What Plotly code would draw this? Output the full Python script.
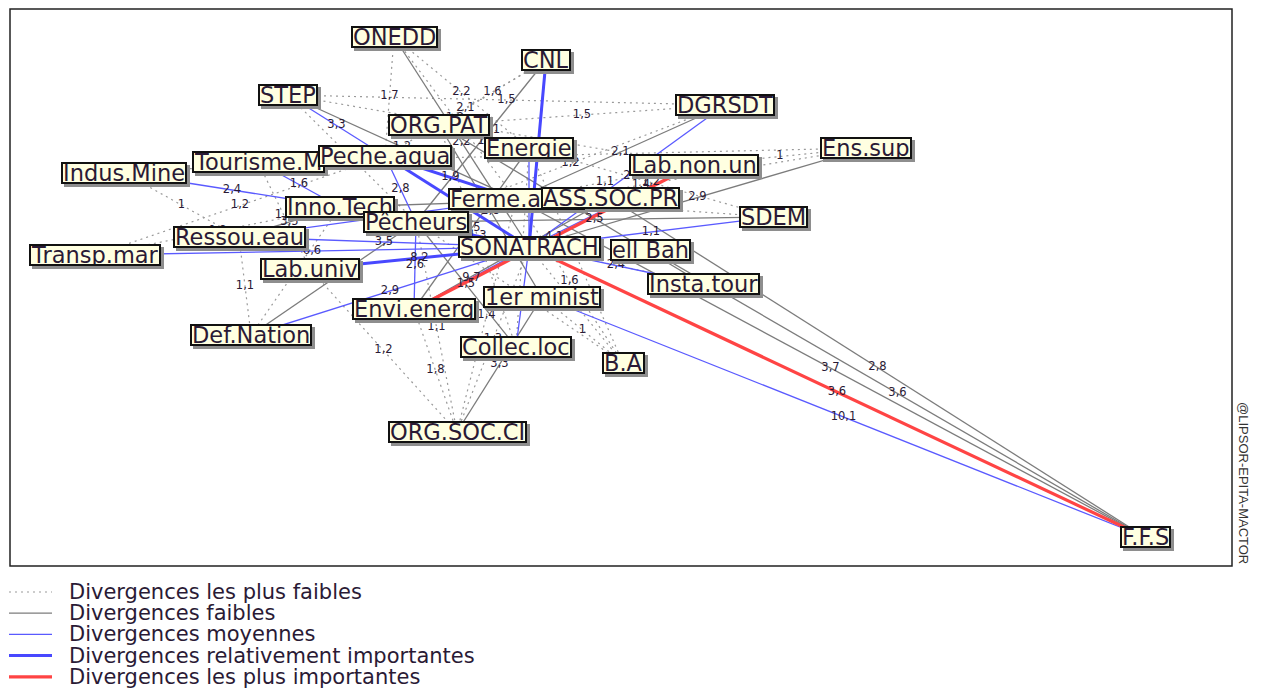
"""
Graphe MACTOR des divergences entre acteurs (plan de positionnement).
"""

import plotly.graph_objects as go

# acteurs : ordre d'affichage (les derniers passent au-dessus)
ACTEURS = [
    "ONEDD", "CNL", "STEP", "ORG.PAT", "DGRSDT", "Ens.sup", "Energie",
    "Tourisme.M", "Peche.aqua", "Lab.non.un", "Indus.Mine", "Ferme.aqua",
    "ASS.SOC.PR", "Inno.Tech", "SDEM", "Pêcheurs", "Ressou.eau", "Transp.mar",
    "ell Bah", "SONATRACH", "Lab.univ", "Insta.tour", "1er minist",
    "Envi.energ", "Def.Nation", "Collec.loc", "B.A", "ORG.SOC.CI", "F.F.S",
]
POS_X = [394, 546, 288, 439, 725, 866, 529, 258, 385, 694, 124, 516,
         610, 340, 773, 416, 239, 95, 650, 529, 310, 703, 542,
         414, 251, 516, 623, 457, 1145]
POS_Y = [37, 60, 95, 125, 105, 148, 148, 162, 156, 165, 173, 199,
         198, 207, 217, 222, 237, 255, 250, 247, 269, 284, 297,
         309, 335, 347, 363, 432, 537]

# liens (acteur, acteur, intensité) par niveau de divergence
DIV_PLUS_FAIBLES = [
    ("ONEDD", "Peche.aqua", "1,7"), ("ONEDD", "Energie", "2,2"),
    ("ONEDD", "Ferme.aqua", "1,2"), ("STEP", "DGRSDT", "1,5"),
    ("STEP", "Lab.non.un", "2,1"), ("Tourisme.M", "Ens.sup", "1,4"),
    ("Indus.Mine", "Peche.aqua", "1"), ("Transp.mar", "Peche.aqua", "1,2"),
    ("Transp.mar", "Inno.Tech", "0,8"), ("ORG.SOC.CI", "SONATRACH", "1,3"),
    ("ORG.SOC.CI", "Envi.energ", "1,8"), ("ORG.SOC.CI", "Pêcheurs", "1,1"),
    ("ORG.SOC.CI", "Ferme.aqua", "1,4"), ("B.A", "SONATRACH", "1,8"),
    ("B.A", "1er minist", "1"), ("B.A", "Ferme.aqua", "1,6"),
    ("B.A", "Pêcheurs", "1,2"), ("Def.Nation", "Inno.Tech", "1,3"),
    ("Def.Nation", "Ressou.eau", "1,1"), ("Ens.sup", "Pêcheurs", "1,4"),
    ("Ens.sup", "Lab.non.un", "1"), ("SDEM", "Ferme.aqua", "1,3"),
    ("SDEM", "Energie", "1,2"), ("Lab.univ", "Tourisme.M", "1,2"),
    ("Collec.loc", "ORG.PAT", "1,3"), ("CNL", "Peche.aqua", "2,1"),
    ("CNL", "ORG.PAT", "1,6"), ("DGRSDT", "ORG.PAT", "1,5"),
    ("DGRSDT", "Pêcheurs", "1,2"), ("Indus.Mine", "Ressou.eau", "1"),
    ("STEP", "Pêcheurs", "1,2"), ("Insta.tour", "Pêcheurs", "1,4"),
    ("Lab.non.un", "Ferme.aqua", "1,1"), ("ORG.SOC.CI", "Lab.univ", "1,2"),
    ("Collec.loc", "Energie", "1,1"), ("B.A", "Energie", "1,3"),
]
DIV_FAIBLES = [
    ("ONEDD", "SONATRACH", "2,2"), ("CNL", "Pêcheurs", "1"),
    ("STEP", "Ferme.aqua", "1,2"), ("DGRSDT", "Ferme.aqua", "2,1"),
    ("Ens.sup", "SONATRACH", "2,9"), ("SDEM", "Pêcheurs", "2,5"),
    ("Def.Nation", "Pêcheurs", "4,5"), ("ORG.SOC.CI", "1er minist", "3,3"),
    ("Collec.loc", "Pêcheurs", "1,5"), ("Ferme.aqua", "F.F.S", "3,7"),
    ("ell Bah", "F.F.S", "3,6"), ("ASS.SOC.PR", "F.F.S", "2,8"),
    ("ORG.PAT", "Insta.tour", "2,6"), ("Energie", "Envi.energ", "1,5"),
    ("Ressou.eau", "Inno.Tech", "3,5"), ("ORG.PAT", "1er minist", "2,8"),
    ("Inno.Tech", "ASS.SOC.PR", "1,5"), ("Envi.energ", "ASS.SOC.PR", "1,5"),
]
DIV_MOYENNES = [
    ("STEP", "Peche.aqua", "3,3"), ("Indus.Mine", "Inno.Tech", "2,4"),
    ("Tourisme.M", "Inno.Tech", "1,6"), ("Transp.mar", "SONATRACH", "6,6"),
    ("Ressou.eau", "SONATRACH", "3,5"), ("Def.Nation", "SONATRACH", "2,9"),
    ("Envi.energ", "Pêcheurs", "2,6"), ("Peche.aqua", "Pêcheurs", "2,8"),
    ("Collec.loc", "SONATRACH", "1,7"), ("Energie", "SONATRACH", "2,9"),
    ("DGRSDT", "SONATRACH", "2"), ("SDEM", "SONATRACH", "1,1"),
    ("Insta.tour", "SONATRACH", "2,4"), ("Lab.non.un", "SONATRACH", "2,8"),
    ("1er minist", "F.F.S", "10,1"), ("Envi.energ", "SONATRACH", "9,7"),
    ("Ressou.eau", "Ferme.aqua", "2,3"),
]
DIV_REL_IMPORTANTES = [
    ("CNL", "SONATRACH", "2,1"), ("Peche.aqua", "Ferme.aqua", "1,9"),
    ("Peche.aqua", "SONATRACH", "3,2"), ("Lab.univ", "SONATRACH", "8,2"),
    ("Inno.Tech", "SONATRACH", "2,5"),
]
DIV_PLUS_IMPORTANTES = [
    ("SONATRACH", "F.F.S", "3,6"), ("Envi.energ", "Lab.non.un", "4,1"),
]

NIVEAUX = [
    ("Divergences les plus faibles", DIV_PLUS_FAIBLES,
     dict(color="#9a9a9a", width=1.2, dash="2px,4px")),
    ("Divergences faibles", DIV_FAIBLES, dict(color="#7c7c7c", width=1.3)),
    ("Divergences moyennes", DIV_MOYENNES, dict(color="#5a5aff", width=1.3)),
    ("Divergences relativement importantes", DIV_REL_IMPORTANTES,
     dict(color="#4848ff", width=3)),
    ("Divergences les plus importantes", DIV_PLUS_IMPORTANTES,
     dict(color="#ff4444", width=3.2)),
]

POLICE = "DejaVu Sans"
TEXTE = "#2a1a35"

pos = {a: (x, y) for a, x, y in zip(ACTEURS, POS_X, POS_Y)}

fig = go.Figure()

lab_x, lab_y, lab_t = [], [], []
for nom, liens, style in NIVEAUX:
    xs, ys = [], []
    for a, b, v in liens:
        (x0, y0), (x1, y1) = pos[a], pos[b]
        xs += [x0, x1, None]
        ys += [y0, y1, None]
        lab_x.append((x0 + x1) / 2)
        lab_y.append((y0 + y1) / 2)
        lab_t.append(v)
    fig.add_trace(go.Scatter(x=xs, y=ys, mode="lines", name=nom, line=style,
                             hoverinfo="skip", showlegend=False))

fig.add_trace(go.Scatter(
    x=lab_x, y=lab_y, text=lab_t, mode="text", showlegend=False,
    textfont=dict(family=POLICE, size=11.5, color=TEXTE),
    hoverinfo="skip",
))

# étiquettes des acteurs : ombre puis cadre
annots = []
for a in ACTEURS:
    x, y = pos[a]
    annots.append(dict(
        x=x, y=y, text=a, showarrow=False, xshift=3, yshift=-3,
        font=dict(family=POLICE, size=22.5, color="rgba(0,0,0,0)"),
        bgcolor="#8e8e8e", bordercolor="#8e8e8e", borderwidth=2,
        borderpad=0, height=18,
    ))
for a in ACTEURS:
    x, y = pos[a]
    annots.append(dict(
        x=x, y=y, text=a, showarrow=False,
        font=dict(family=POLICE, size=22.5, color=TEXTE),
        bgcolor="#ffffe1", bordercolor="#111111", borderwidth=2,
        borderpad=0, height=18,
    ))
annots.append(dict(
    x=1244, y=483, text="@LIPSOR-EPITA-MACTOR", showarrow=False,
    textangle=90, font=dict(family="Liberation Sans", size=13, color="#333"),
))

# légende dessinée à la main (échantillon de trait + libellé)
shapes = [dict(type="rect", x0=10, y0=9, x1=1232, y1=566,
               line=dict(color="#222", width=1.5))]
for i, (nom, _, style) in enumerate(NIVEAUX):
    ly = 592 + i * 21.2
    shapes.append(dict(type="line", x0=9, x1=52, y0=ly, y1=ly, line=style))
    annots.append(dict(
        x=67, y=ly, text=nom, showarrow=False, xanchor="left",
        font=dict(family=POLICE, size=21, color=TEXTE),
    ))

fig.update_layout(
    width=1261, height=689,
    margin=dict(l=0, r=0, t=0, b=0),
    paper_bgcolor="white", plot_bgcolor="white",
    xaxis=dict(range=[0, 1261], visible=False),
    yaxis=dict(range=[689, 0], visible=False),
    annotations=annots,
    shapes=shapes,
    showlegend=False,
)

fig.write_html("out.html", config={"displayModeBar": False},
               post_script="document.body.style.margin='0';")
